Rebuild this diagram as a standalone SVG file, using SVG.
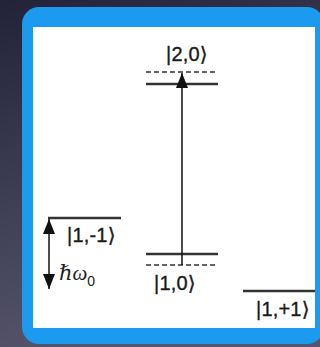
<svg xmlns="http://www.w3.org/2000/svg" width="320" height="347" viewBox="0 0 320 347">
<defs>
<linearGradient id="bg" x1="0" y1="0" x2="0.3" y2="1">
<stop offset="0" stop-color="#222339"/>
<stop offset="1" stop-color="#56556b"/>
</linearGradient>
<marker id="ah" viewBox="0 0 15 12" refX="15" refY="6" markerWidth="15" markerHeight="12" markerUnits="userSpaceOnUse" orient="auto">
<path d="M0,0 L15,6 L0,12 z" fill="#111"/>
</marker>
</defs>
<style>
.lvl{stroke:#333;stroke-width:2.5;fill:none}
.dash{stroke:#333;stroke-width:1.6;stroke-dasharray:5,3;fill:none}
.lbl{font-family:"Liberation Sans","DejaVu Sans",sans-serif;font-size:20px;letter-spacing:0.2px;fill:#1a1a1a;stroke:#1a1a1a;stroke-width:0.35}
.conn{stroke:#111;stroke-width:1.5;fill:none}
</style>
<rect x="0" y="0" width="320" height="347" fill="url(#bg)"/>
<rect x="22" y="7" width="302" height="337" rx="17" fill="#1C9AF0"/>
<rect x="33" y="27" width="282" height="301" fill="#ffffff"/>

<g id="state20">
<line class="dash" x1="146" y1="72" x2="218" y2="72"/>
<line class="lvl" x1="146" y1="84" x2="218" y2="84"/>
<text class="lbl" x="166" y="61">|2,0⟩</text>
</g>
<g id="state10">
<line class="lvl" x1="146" y1="254" x2="218" y2="254"/>
<line class="dash" x1="146" y1="265" x2="218" y2="265"/>
<text class="lbl" x="154" y="290">|1,0⟩</text>
</g>
<g id="state1m1">
<line class="lvl" x1="48" y1="218" x2="121" y2="218"/>
<text class="lbl" x="67" y="242">|1,-1⟩</text>
</g>
<g id="state1p1">
<line class="lvl" x1="243" y1="291" x2="315" y2="291"/>
<text class="lbl" x="256" y="316">|1,+1⟩</text>
</g>
<g id="energy">
<text x="59" y="280" font-family="Liberation Serif, DejaVu Serif, serif" font-style="italic" font-size="21" fill="#222">ℏω<tspan font-family="Liberation Sans, sans-serif" font-style="normal" font-size="14" dy="6">0</tspan></text>
</g>
<g id="connectors">
<line class="conn" x1="182" y1="265" x2="182" y2="73" marker-end="url(#ah)"/>
<line class="conn" x1="49" y1="250" x2="49" y2="219" marker-end="url(#ah)"/>
<line class="conn" x1="49" y1="250" x2="49" y2="289" marker-end="url(#ah)"/>
</g>
</svg>
